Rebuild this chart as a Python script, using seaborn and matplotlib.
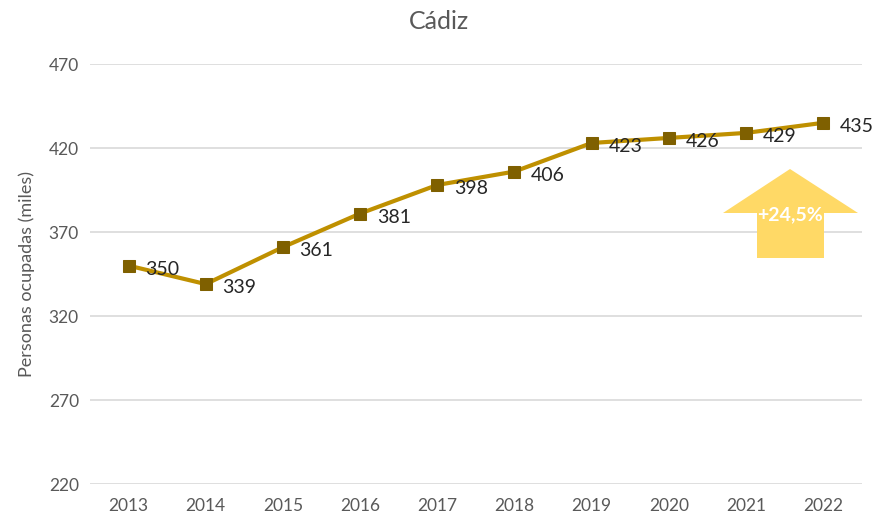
import matplotlib
matplotlib.use("Agg")
import matplotlib.pyplot as plt
import seaborn as sns
import pandas as pd
from matplotlib.patches import Polygon

years = ["2013", "2014", "2015", "2016", "2017", "2018", "2019", "2020", "2021", "2022"]
ocupados = [350, 339, 361, 381, 398, 406, 423, 426, 429, 435]
yticks = [220, 270, 320, 370, 420, 470]
title = "Cádiz"
ylabel = "Personas ocupadas (miles)"
growth_label = "+24,5%"

sns.set_theme(style="white")
plt.rcParams['font.family'] = ['Lato', 'DejaVu Sans']

df = pd.DataFrame({"year": years, "value": ocupados})

fig = plt.figure(figsize=(8.77, 5.18), dpi=100)
ax = fig.add_axes([0.1026, 0.0656, 0.88, 0.8108])

sns.lineplot(data=df, x="year", y="value", ax=ax, color="#BF9000", linewidth=3,
             marker="s", markersize=8, markerfacecolor="#7F6000",
             markeredgecolor="#7F6000", zorder=3)

ax.set_xlim(-0.5, len(years) - 0.5)
ax.set_ylim(yticks[0], yticks[-1])
ax.set_yticks(yticks)
ax.yaxis.grid(True, color="#D9D9D9", linewidth=1.2)
ax.xaxis.grid(False)
for s in ax.spines.values():
    s.set_visible(False)
ax.tick_params(axis="both", colors="#595959", labelsize=12.5, length=0, pad=8)
ax.tick_params(axis="x", pad=10)
ax.set_xlabel("")
ax.set_ylabel(ylabel, color="#595959", fontsize=13, labelpad=10)
fig.suptitle(title, x=0.5, y=0.98, color="#595959", fontsize=18)

for i, v in enumerate(ocupados):
    ax.annotate(str(v), (i, v), xytext=(12, -2.5), textcoords="offset points",
                color="#262626", fontsize=14, va="center", ha="left", zorder=4)

# growth arrow (figure pixel coordinates converted to fraction)
W, H = 877, 518
pts = [(790, 169), (858, 213), (824, 213), (824, 258), (757, 258), (757, 213), (723, 213)]
poly = Polygon([(x / W, 1 - y / H) for x, y in pts], closed=True,
               transform=fig.transFigure, facecolor="#FFD966", edgecolor="none", zorder=5)
fig.patches.append(poly)
fig.text(790 / W, 1 - 215 / H, growth_label, color="white", fontsize=14,
         fontweight="bold", ha="center", va="center", zorder=6)

fig.savefig("out.png", dpi=100)
